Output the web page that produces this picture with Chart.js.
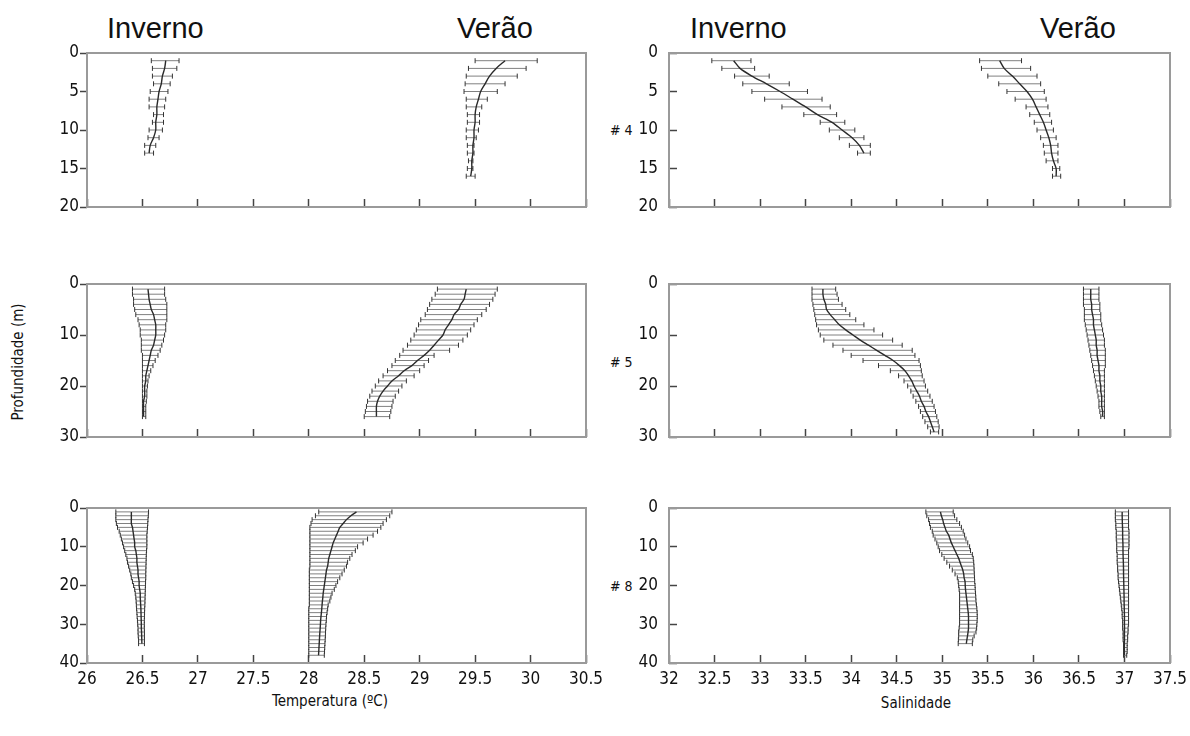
<!DOCTYPE html>
<html>
<head>
<meta charset="utf-8">
<script src="https://cdn.jsdelivr.net/npm/chart.js@4"></script>
<style>
  body { margin: 0; width: 1190px; height: 736px; background: #fff; position: relative; overflow: hidden; }
  canvas { position: absolute; }
  .lbl { position: absolute; white-space: nowrap; color: #111; font-family: "DejaVu Sans Condensed", "Liberation Sans Narrow", sans-serif; }
  .season { font-family: "Liberation Sans", Arial, sans-serif; font-size: 29px; color: #111; }
</style>
</head>
<body>
<div class="lbl season" style="left:107px;top:12px">Inverno</div>
<div class="lbl season" style="left:457px;top:12px">Verão</div>
<div class="lbl season" style="left:690px;top:12px">Inverno</div>
<div class="lbl season" style="left:1040px;top:12px">Verão</div>
<div class="lbl" style="left:610px;top:122px;font-size:14px"># 4</div>
<div class="lbl" style="left:610px;top:354px;font-size:14px"># 5</div>
<div class="lbl" style="left:610px;top:578px;font-size:14px"># 8</div>
<div class="lbl" style="left:18px;top:362px;font-size:15px;transform:translate(-50%,-50%) rotate(-90deg)">Profundidade (m)</div>
<div class="lbl" style="left:330px;top:692px;font-size:15px;transform:translateX(-50%)">Temperatura (ºC)</div>
<div class="lbl" style="left:916px;top:694px;font-size:15px;transform:translateX(-50%)">Salinidade</div>
<script>
// depths (m)
const depth13 = [1, 2, 3, 4, 5, 6, 7, 8, 9, 10, 11, 12, 13];
const depth16 = [1, 2, 3, 4, 5, 6, 7, 8, 9, 10, 11, 12, 13, 14, 15, 16];
const depth26 = [1, 2, 3, 4, 5, 6, 7, 8, 9, 10, 11, 12, 13, 14, 15, 16, 17, 18, 19, 20, 21, 22, 23, 24, 25, 26];
const depth29 = [1, 2, 3, 4, 5, 6, 7, 8, 9, 10, 11, 12, 13, 14, 15, 16, 17, 18, 19, 20, 21, 22, 23, 24, 25, 26, 27, 28, 29];
const depth35 = [1, 2, 3, 4, 5, 6, 7, 8, 9, 10, 11, 12, 13, 14, 15, 16, 17, 18, 19, 20, 21, 22, 23, 24, 25, 26, 27, 28, 29, 30, 31, 32, 33, 34, 35];
const depth38 = [1, 2, 3, 4, 5, 6, 7, 8, 9, 10, 11, 12, 13, 14, 15, 16, 17, 18, 19, 20, 21, 22, 23, 24, 25, 26, 27, 28, 29, 30, 31, 32, 33, 34, 35, 36, 37, 38];

const tempTicks = [26, 26.5, 27, 27.5, 28, 28.5, 29, 29.5, 30, 30.5];
const salTicks = [32, 32.5, 33, 33.5, 34, 34.5, 35, 35.5, 36, 36.5, 37, 37.5];

// #4 temperatura
const t4InvMean = [26.71, 26.70, 26.68, 26.67, 26.65, 26.64, 26.63, 26.63, 26.62, 26.62, 26.60, 26.57, 26.56];
const t4InvLo = [26.58, 26.59, 26.59, 26.60, 26.57, 26.56, 26.56, 26.60, 26.59, 26.56, 26.55, 26.52, 26.52];
const t4InvHi = [26.83, 26.81, 26.77, 26.75, 26.73, 26.71, 26.70, 26.69, 26.69, 26.68, 26.65, 26.62, 26.60];
const t4VerMean = [29.77, 29.69, 29.63, 29.59, 29.55, 29.53, 29.51, 29.50, 29.50, 29.49, 29.49, 29.48, 29.48, 29.47, 29.47, 29.46];
const t4VerLo = [29.50, 29.44, 29.42, 29.41, 29.40, 29.42, 29.42, 29.43, 29.43, 29.42, 29.42, 29.43, 29.43, 29.44, 29.43, 29.42];
const t4VerHi = [30.06, 29.96, 29.88, 29.77, 29.70, 29.61, 29.56, 29.54, 29.54, 29.53, 29.51, 29.49, 29.49, 29.48, 29.48, 29.50];

// #4 salinidade
const s4InvMean = [32.71, 32.78, 32.91, 33.07, 33.22, 33.36, 33.50, 33.63, 33.79, 33.90, 34.01, 34.09, 34.14];
const s4InvLo = [32.47, 32.58, 32.72, 32.81, 32.91, 33.05, 33.24, 33.48, 33.66, 33.76, 33.87, 33.98, 34.07];
const s4InvHi = [32.90, 32.94, 33.10, 33.32, 33.52, 33.68, 33.77, 33.84, 33.93, 34.04, 34.14, 34.21, 34.21];
const s4VerMean = [35.63, 35.68, 35.77, 35.85, 35.93, 35.99, 36.03, 36.07, 36.11, 36.14, 36.17, 36.19, 36.20, 36.22, 36.25, 36.25];
const s4VerLo = [35.41, 35.43, 35.50, 35.62, 35.71, 35.80, 35.92, 35.96, 36.01, 36.04, 36.08, 36.11, 36.12, 36.14, 36.21, 36.21];
const s4VerHi = [35.87, 35.97, 36.04, 36.08, 36.12, 36.14, 36.16, 36.18, 36.20, 36.22, 36.25, 36.27, 36.27, 36.27, 36.29, 36.30];

// #5 temperatura
const t5InvMean = [26.55, 26.555, 26.56, 26.57, 26.58, 26.60, 26.61, 26.62, 26.62, 26.62, 26.61, 26.60, 26.58, 26.57, 26.56, 26.55, 26.54, 26.53, 26.53, 26.52, 26.52, 26.52, 26.51, 26.51, 26.51, 26.51];
const t5InvLo = [26.41, 26.41, 26.42, 26.42, 26.43, 26.44, 26.46, 26.47, 26.48, 26.48, 26.49, 26.49, 26.49, 26.50, 26.50, 26.50, 26.50, 26.50, 26.50, 26.50, 26.50, 26.50, 26.50, 26.50, 26.50, 26.50];
const t5InvHi = [26.70, 26.70, 26.71, 26.72, 26.72, 26.72, 26.72, 26.71, 26.71, 26.70, 26.69, 26.675, 26.66, 26.64, 26.615, 26.595, 26.575, 26.56, 26.55, 26.545, 26.54, 26.54, 26.535, 26.53, 26.53, 26.53];
const t5VerMean = [29.42, 29.41, 29.40, 29.37, 29.35, 29.31, 29.29, 29.26, 29.23, 29.21, 29.17, 29.13, 29.09, 29.04, 28.98, 28.93, 28.86, 28.81, 28.75, 28.71, 28.67, 28.64, 28.62, 28.61, 28.61, 28.61];
const t5VerLo = [29.16, 29.14, 29.11, 29.09, 29.07, 29.05, 29.01, 28.99, 28.97, 28.95, 28.92, 28.89, 28.85, 28.82, 28.78, 28.75, 28.71, 28.67, 28.63, 28.60, 28.57, 28.55, 28.53, 28.52, 28.51, 28.50];
const t5VerHi = [29.70, 29.68, 29.66, 29.63, 29.60, 29.56, 29.52, 29.49, 29.46, 29.43, 29.39, 29.35, 29.27, 29.13, 29.08, 29.04, 29.00, 28.95, 28.88, 28.84, 28.81, 28.78, 28.76, 28.75, 28.74, 28.73];

// #5 salinidade
const s5InvMean = [33.69, 33.69, 33.70, 33.72, 33.73, 33.77, 33.82, 33.87, 33.94, 34.02, 34.10, 34.19, 34.28, 34.37, 34.46, 34.53, 34.59, 34.63, 34.665, 34.69, 34.72, 34.75, 34.77, 34.80, 34.82, 34.85, 34.87, 34.89, 34.91];
const s5InvLo = [33.57, 33.57, 33.57, 33.58, 33.59, 33.60, 33.61, 33.62, 33.64, 33.66, 33.70, 33.80, 33.91, 34.00, 34.13, 34.30, 34.43, 34.52, 34.58, 34.62, 34.655, 34.68, 34.71, 34.74, 34.76, 34.785, 34.81, 34.84, 34.87];
const s5InvHi = [33.83, 33.845, 33.86, 33.90, 33.94, 33.985, 34.05, 34.14, 34.25, 34.345, 34.455, 34.56, 34.67, 34.70, 34.745, 34.76, 34.77, 34.78, 34.80, 34.815, 34.84, 34.865, 34.89, 34.91, 34.925, 34.94, 34.955, 34.965, 34.96];
const s5VerMean = [36.63, 36.63, 36.63, 36.64, 36.64, 36.65, 36.66, 36.66, 36.67, 36.68, 36.69, 36.69, 36.70, 36.70, 36.71, 36.72, 36.72, 36.73, 36.73, 36.74, 36.74, 36.75, 36.75, 36.75, 36.76, 36.76];
const s5VerLo = [36.55, 36.55, 36.55, 36.55, 36.56, 36.56, 36.56, 36.57, 36.58, 36.59, 36.60, 36.61, 36.62, 36.63, 36.64, 36.65, 36.66, 36.67, 36.68, 36.69, 36.70, 36.71, 36.72, 36.72, 36.73, 36.74];
const s5VerHi = [36.72, 36.72, 36.72, 36.73, 36.73, 36.74, 36.74, 36.75, 36.76, 36.77, 36.78, 36.78, 36.79, 36.79, 36.79, 36.79, 36.78, 36.78, 36.78, 36.78, 36.78, 36.78, 36.78, 36.78, 36.78, 36.78];

// #8 temperatura
const t8InvMean = [26.40, 26.40, 26.40, 26.40, 26.41, 26.415, 26.42, 26.425, 26.43, 26.43, 26.44, 26.445, 26.45, 26.45, 26.455, 26.46, 26.46, 26.465, 26.47, 26.47, 26.475, 26.48, 26.48, 26.482, 26.484, 26.486, 26.487, 26.488, 26.489, 26.49, 26.49, 26.492, 26.493, 26.494, 26.495];
const t8InvLo = [26.26, 26.26, 26.26, 26.265, 26.275, 26.29, 26.30, 26.31, 26.32, 26.33, 26.34, 26.35, 26.36, 26.365, 26.375, 26.385, 26.395, 26.40, 26.41, 26.42, 26.43, 26.435, 26.44, 26.443, 26.445, 26.447, 26.45, 26.452, 26.455, 26.457, 26.46, 26.46, 26.462, 26.465, 26.465];
const t8InvHi = [26.555, 26.553, 26.55, 26.548, 26.546, 26.543, 26.54, 26.54, 26.54, 26.54, 26.537, 26.535, 26.534, 26.533, 26.532, 26.531, 26.53, 26.53, 26.528, 26.527, 26.526, 26.525, 26.524, 26.523, 26.522, 26.52, 26.519, 26.518, 26.517, 26.517, 26.517, 26.518, 26.518, 26.518, 26.518];
const t8VerMean = [28.43, 28.38, 28.34, 28.31, 28.28, 28.265, 28.25, 28.235, 28.22, 28.21, 28.20, 28.19, 28.18, 28.175, 28.17, 28.16, 28.155, 28.15, 28.145, 28.14, 28.135, 28.13, 28.127, 28.123, 28.12, 28.117, 28.114, 28.11, 28.107, 28.105, 28.103, 28.10, 28.098, 28.096, 28.094, 28.092, 28.09, 28.088];
const t8VerLo = [28.09, 28.06, 28.03, 28.02, 28.01, 28.01, 28.01, 28.01, 28.01, 28.01, 28.01, 28.01, 28.01, 28.01, 28.01, 28.005, 28.005, 28.005, 28.005, 28.005, 28.005, 28.005, 28.005, 28.005, 28.005, 28.0, 28.0, 28.0, 28.0, 28.0, 28.0, 28.0, 28.0, 28.0, 28.0, 28.0, 28.0, 28.0];
const t8VerHi = [28.75, 28.73, 28.70, 28.67, 28.65, 28.62, 28.58, 28.53, 28.49, 28.44, 28.42, 28.39, 28.37, 28.35, 28.34, 28.32, 28.30, 28.28, 28.26, 28.245, 28.23, 28.21, 28.20, 28.19, 28.175, 28.17, 28.165, 28.16, 28.158, 28.155, 28.153, 28.151, 28.15, 28.148, 28.146, 28.144, 28.142, 28.14];

// #8 salinidade
const s8InvMean = [34.98, 34.99, 35.005, 35.015, 35.03, 35.045, 35.07, 35.085, 35.10, 35.12, 35.14, 35.16, 35.18, 35.195, 35.21, 35.225, 35.235, 35.24, 35.25, 35.252, 35.255, 35.26, 35.265, 35.27, 35.275, 35.28, 35.285, 35.288, 35.288, 35.288, 35.288, 35.283, 35.277, 35.27, 35.264];
const s8InvLo = [34.82, 34.83, 34.85, 34.86, 34.87, 34.89, 34.90, 34.92, 34.94, 34.955, 34.97, 34.995, 35.02, 35.05, 35.08, 35.11, 35.14, 35.165, 35.175, 35.18, 35.185, 35.19, 35.19, 35.19, 35.19, 35.19, 35.19, 35.19, 35.19, 35.19, 35.185, 35.18, 35.18, 35.177, 35.175];
const s8InvHi = [35.12, 35.135, 35.16, 35.19, 35.21, 35.23, 35.245, 35.26, 35.28, 35.30, 35.31, 35.33, 35.34, 35.345, 35.348, 35.35, 35.352, 35.354, 35.356, 35.36, 35.362, 35.365, 35.368, 35.37, 35.375, 35.38, 35.383, 35.384, 35.383, 35.38, 35.377, 35.37, 35.35, 35.335, 35.33];
const s8VerMean = [36.975, 36.975, 36.976, 36.977, 36.979, 36.98, 36.98, 36.981, 36.983, 36.984, 36.984, 36.985, 36.986, 36.988, 36.989, 36.99, 36.99, 36.991, 36.992, 36.993, 36.994, 36.995, 36.996, 36.996, 36.997, 36.998, 36.999, 37.0, 37.0, 37.0, 37.001, 37.0, 37.0, 37.0, 37.0, 36.999, 37.0, 37.0];
const s8VerLo = [36.90, 36.90, 36.90, 36.905, 36.905, 36.91, 36.91, 36.91, 36.915, 36.915, 36.915, 36.92, 36.92, 36.92, 36.925, 36.925, 36.93, 36.93, 36.935, 36.94, 36.945, 36.95, 36.955, 36.96, 36.965, 36.97, 36.975, 36.975, 36.98, 36.98, 36.98, 36.985, 36.985, 36.985, 36.99, 36.99, 36.99, 36.99];
const s8VerHi = [37.045, 37.045, 37.045, 37.045, 37.045, 37.05, 37.05, 37.05, 37.05, 37.05, 37.045, 37.045, 37.045, 37.045, 37.045, 37.045, 37.045, 37.045, 37.045, 37.045, 37.045, 37.045, 37.045, 37.045, 37.045, 37.045, 37.045, 37.045, 37.045, 37.045, 37.04, 37.04, 37.035, 37.035, 37.03, 37.03, 37.03, 37.025];

const TICK_FONT = { family: "'DejaVu Sans Condensed', 'Liberation Sans Narrow', sans-serif", size: 17 };

const cols = [
  { left: 87, right: 586, min: 26, max: 30.5, ticks: tempTicks, yTick: 7, yPad: 1 },
  { left: 669, right: 1170, min: 32, max: 37.5, ticks: salTicks, yTick: -8, yPad: 19 }
];
const rows = [
  { top: 53, bottom: 208, max: 20, step: 5 },
  { top: 284, bottom: 438, max: 30, step: 10 },
  { top: 508, bottom: 663, max: 40, step: 10 }
];

function profile(depth, mean, lo, hi) {
  const bars = [];
  depth.forEach((d, i) => {
    bars.push({ x: lo[i], y: d }, { x: hi[i], y: d }, { x: null, y: null });
  });
  return [
    {
      data: depth.map((d, i) => ({ x: mean[i], y: d })),
      showLine: true, borderColor: "#2a2a2a", borderWidth: 1.4,
      pointRadius: 0, tension: 0.3
    },
    {
      data: bars,
      showLine: true, spanGaps: false, borderColor: "#808080", borderWidth: 1,
      pointStyle: "line", pointRotation: 90, pointRadius: 2.5,
      pointBorderColor: "#333", pointBorderWidth: 1
    }
  ];
}

const panels = [
  { row: 0, col: 0, sets: [...profile(depth13, t4InvMean, t4InvLo, t4InvHi), ...profile(depth16, t4VerMean, t4VerLo, t4VerHi)] },
  { row: 0, col: 1, sets: [...profile(depth13, s4InvMean, s4InvLo, s4InvHi), ...profile(depth16, s4VerMean, s4VerLo, s4VerHi)] },
  { row: 1, col: 0, sets: [...profile(depth26, t5InvMean, t5InvLo, t5InvHi), ...profile(depth26, t5VerMean, t5VerLo, t5VerHi)] },
  { row: 1, col: 1, sets: [...profile(depth29, s5InvMean, s5InvLo, s5InvHi), ...profile(depth26, s5VerMean, s5VerLo, s5VerHi)] },
  { row: 2, col: 0, sets: [...profile(depth35, t8InvMean, t8InvLo, t8InvHi), ...profile(depth38, t8VerMean, t8VerLo, t8VerHi)] },
  { row: 2, col: 1, sets: [...profile(depth35, s8InvMean, s8InvLo, s8InvHi), ...profile(depth38, s8VerMean, s8VerLo, s8VerHi)] }
];

// box round each plot area
const frame = {
  id: "frame",
  beforeDatasetsDraw(chart) {
    const { ctx, chartArea: a } = chart;
    ctx.save();
    ctx.strokeStyle = "#9a9a9a";
    ctx.lineWidth = 2;
    ctx.strokeRect(a.left, a.top, a.right - a.left, a.bottom - a.top);
    ctx.restore();
  }
};

const AXW = 45, PT = 12, PR = 24;

panels.forEach(p => {
  const c = cols[p.col], r = rows[p.row];
  const last = p.row === 2;
  const axh = last ? 30 : 4;
  const canvas = document.createElement("canvas");
  const w = AXW + (c.right - c.left) + PR;
  const h = PT + (r.bottom - r.top) + axh;
  canvas.width = w;
  canvas.height = h;
  canvas.style.left = (c.left - AXW) + "px";
  canvas.style.top = (r.top - PT) + "px";
  canvas.style.width = w + "px";
  canvas.style.height = h + "px";
  document.body.appendChild(canvas);

  new Chart(canvas, {
    type: "scatter",
    data: { datasets: p.sets },
    options: {
      responsive: false,
      animation: false,
      events: [],
      layout: { padding: { left: 0, top: PT, right: PR, bottom: 0 } },
      plugins: { legend: { display: false }, tooltip: { enabled: false } },
      scales: {
        x: {
          type: "linear",
          min: c.min,
          max: c.max,
          afterBuildTicks: s => { s.ticks = c.ticks.map(v => ({ value: v })); },
          afterFit: s => { s.height = axh; s.paddingLeft = 0; s.paddingRight = 0; },
          border: { display: false },
          grid: { drawOnChartArea: false, drawTicks: true, tickLength: -8, tickWidth: 1.5, tickColor: "#444" },
          ticks: {
            display: last,
            autoSkip: false,
            maxRotation: 0,
            padding: 14,
            color: "#111",
            font: TICK_FONT,
            callback: v => String(v)
          }
        },
        y: {
          type: "linear",
          reverse: true,
          min: 0,
          max: r.max,
          afterFit: s => { s.width = AXW; s.paddingTop = 0; s.paddingBottom = 0; },
          border: { display: false },
          grid: { drawOnChartArea: false, drawTicks: true, tickLength: c.yTick, tickWidth: 1.5, tickColor: "#444" },
          ticks: {
            stepSize: r.step,
            padding: c.yPad,
            color: "#111",
            font: TICK_FONT,
            callback: v => String(v)
          }
        }
      }
    },
    plugins: [frame]
  });
});
</script>
</body>
</html>
